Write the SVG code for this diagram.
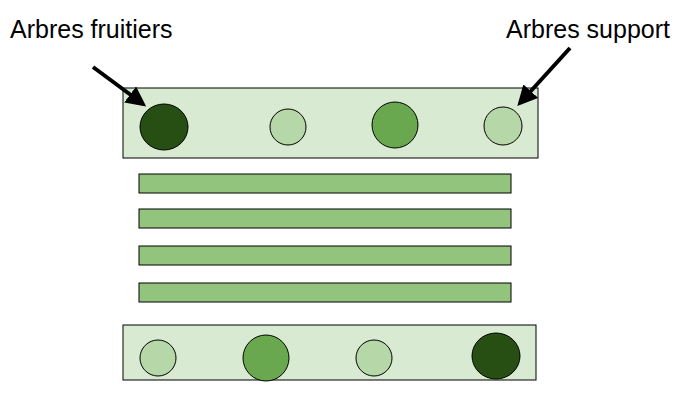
<svg xmlns="http://www.w3.org/2000/svg" width="682" height="412" viewBox="0 0 682 412">
<style>
.box{fill:#d9ead3;stroke:#000;stroke-width:1}
.bar{fill:#93c47d;stroke:#000;stroke-width:1}
.d{fill:#274e13;stroke:#000}
.m{fill:#6aa84f;stroke:#000}
.l{fill:#b6d7a8;stroke:#000}
text{font-family:"Liberation Sans",Arial,sans-serif;font-size:25px;fill:#000}
</style>
<defs><marker id="ah" viewBox="0 0 10 10" refX="8" refY="5" markerWidth="5" markerHeight="5" orient="auto"><path d="M0,0L10,5L0,10z" fill="#000"/></marker></defs>
<rect width="682" height="412" fill="#fff"/>
<g id="top-row">
<rect class="box" x="123" y="88" width="415" height="70"/>
<ellipse class="d" cx="164" cy="127" rx="24" ry="23"/>
<circle class="l" cx="288" cy="127" r="18"/>
<ellipse class="m" cx="395" cy="125" rx="23" ry="23"/>
<circle class="l" cx="503" cy="126" r="19"/>
</g>
<g id="bars">
<rect class="bar" x="139" y="174" width="372" height="19"/>
<rect class="bar" x="139" y="209" width="372" height="19"/>
<rect class="bar" x="139" y="246" width="372" height="19"/>
<rect class="bar" x="139" y="283" width="372" height="19"/>
</g>
<g id="bottom-row">
<rect class="box" x="123" y="325" width="413" height="55"/>
<circle class="l" cx="158" cy="358" r="18"/>
<circle class="m" cx="266" cy="358" r="23"/>
<circle class="l" cx="374" cy="358" r="18"/>
<ellipse class="d" cx="496" cy="356" rx="24" ry="23"/>
</g>
<g id="labels">
<text x="10" y="38">Arbres fruitiers</text>
<text x="670" y="38" text-anchor="end">Arbres support</text>
</g>
<g id="connectors" stroke="#000" stroke-width="4" fill="none">
<line x1="93" y1="67" x2="143" y2="104" marker-end="url(#ah)"/>
<line x1="570" y1="48" x2="520" y2="103" marker-end="url(#ah)"/>
</g>
</svg>
